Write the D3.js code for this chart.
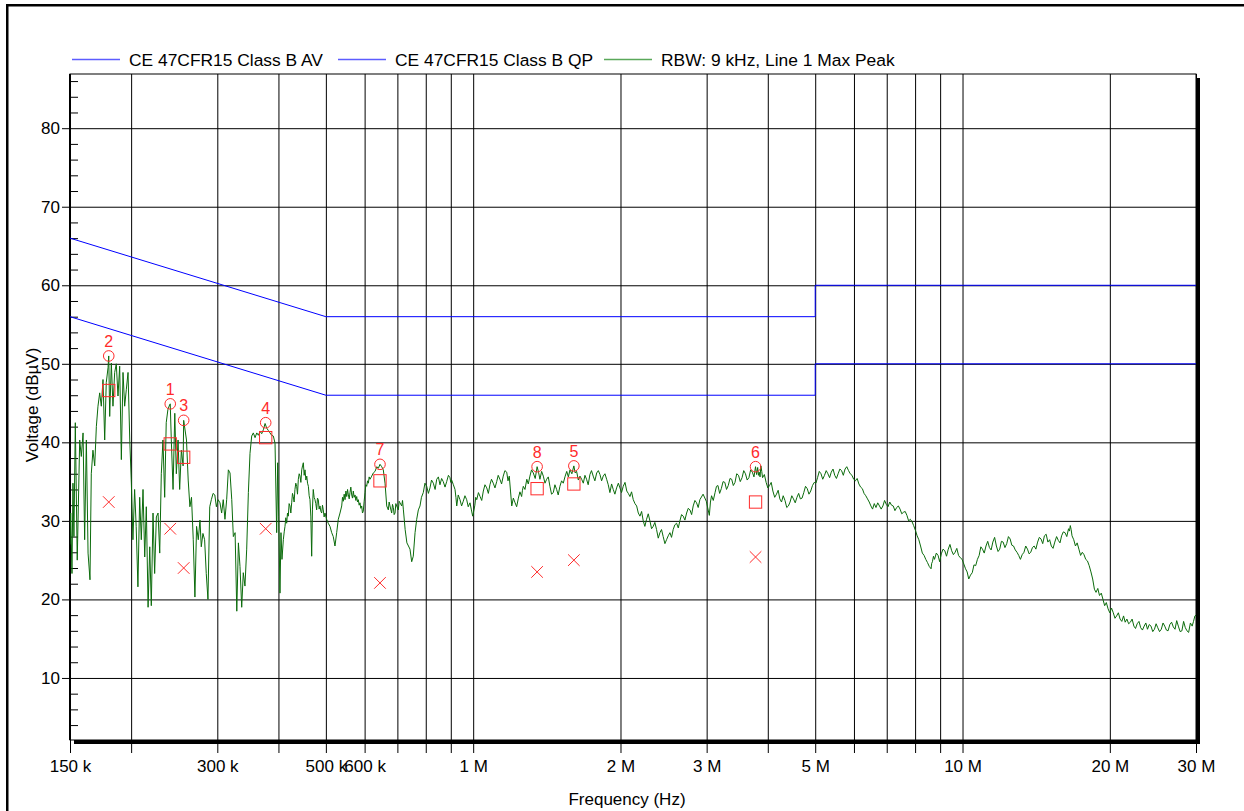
<!DOCTYPE html>
<html><head><meta charset="utf-8">
<script src="https://cdn.jsdelivr.net/npm/d3@7"></script>
<style>
html,body{margin:0;padding:0;background:#fff;overflow:hidden}
svg{display:block;font-family:"Liberation Sans",Arial,sans-serif}
</style></head><body>
<svg id="c" width="1244" height="811"></svg>
<script>
// ---- data (frequencies in kHz, levels in dBµV) ----
const xGridKHz = [200,300,400,500,600,700,800,900,1000,2000,3000,4000,5000,6000,7000,8000,9000,10000,20000,30000];
const xTickKHz = [150,200,300,400,500,600,700,800,900,1000,2000,3000,4000,5000,6000,7000,8000,9000,10000,20000,30000];
const xTickLabels = [[150,"150 k"],[300,"300 k"],[500,"500 k"],[600,"600 k"],[1000,"1 M"],[2000,"2 M"],[3000,"3 M"],[5000,"5 M"],[10000,"10 M"],[20000,"20 M"],[30000,"30 M"]];
const yMajor = [10,20,30,40,50,60,70,80];
const yMinor = [4,6,8,12,14,16,18,22,24,26,28,32,34,36,38,42,44,46,48,52,54,56,58,62,64,66,68,72,74,76,78,82,84,86];

const avLimit = [[150,56],[500,46],[5000,46],[5000,50],[30000,50]];
const qpLimit = [[150,66],[500,56],[5000,56],[5000,60],[30000,60]];

const legendNames = ["CE 47CFR15 Class B AV","CE 47CFR15 Class B QP","RBW: 9 kHz, Line 1 Max Peak"];

// marker: number, frequency kHz, peak, quasi-peak, average
const markerNums = [1,2,3,4,5,6,7,8];
const markerFreq = [240.4,180.0,256.1,376.7,1606,3776,645,1351];
const markerPeak = [44.9,51.0,42.8,42.5,37.0,36.9,37.2,36.9];
const markerQP   = [39.8,46.6,38.1,40.6,34.7,32.4,35.1,34.1];
const markerAV   = [29.0,32.4,24.0,29.0,25.0,25.4,22.1,23.5];

const trace = [
[150.0,27],[150.5,31],[151.4,23.3],[152.1,34.8],[152.8,28],[153.8,42.5],[155.2,25],[157.0,40.3],[158.2,38.2],[159.5,41.2],[160.7,27.6],[162.0,40.3],[163.3,25.9],[164.8,22.5],[165.8,36],[167.1,39],[168.5,37],[169.8,42],[171.1,44.6],[172.5,46.3],[173.8,44.6],[175.2,48],[176.6,40.3],[177.9,47.6],[179.4,49.5],[180.0,51],[180.8,43.3],[182.2,50.1],[183.6,44.6],[185.1,48.9],[186.5,50],[188.0,45.9],[189.5,49.7],[191.0,37.8],[192.5,48.9],[194.0,44.6],[195.5,46.7],[197.1,48.9],[198.7,40.3],[200.2,34.8],[201.7,27.6],[203.3,34],[204.8,29.3],[206.5,21.6],[208.2,33],[209.8,27.6],[211.5,34],[213.2,25.4],[214.8,31.8],[216.6,19],[218.3,26.7],[219.9,19.2],[221.7,31],[223.4,23.3],[225.2,30.5],[227.0,31],[228.8,25.9],[230.5,36],[232.3,40.3],[234.2,33],[235.9,42.5],[237.8,44.2],[239.8,44.8],[240.4,44.9],[241.6,40.3],[243.6,34],[245.6,43.7],[247.4,36],[249.4,40.3],[251.3,34],[253.3,39],[255.4,37],[256.1,42.8],[259.5,40.3],[261.6,35.2],[263.7,31.8],[265.7,33],[267.9,27.6],[270.0,20.3],[272.1,29.3],[274.3,27.6],[276.5,30.1],[278.2,26.7],[280.4,28.4],[282.6,27.6],[284.8,23.3],[287.1,20],[289.5,31.8],[291.7,32.7],[294.1,33.5],[296.5,33.3],[298.7,31.8],[301.2,32.7],
[303.8,32.3],[306.2,31],[308.5,32.7],[311.0,30.2],[313.5,32.7],[316.0,36.5],[318.5,36.1],[321.1,32.7],[323.5,28],[326.2,28.5],[328.8,18.5],[331.3,27.2],[333.8,24.2],[336.5,19],[339.0,23.4],[341.7,21.7],[344.5,26.4],[347.2,33.6],[349.9,38.6],[352.7,40.8],[355.4,41.2],[358.3,40.6],[361.2,41.2],[364.0,40.9],[366.8,41.4],[369.7,41.1],[372.6,41.6],[375.6,42.4],[378.6,41.8],[381.5,41.5],[384.4,41.2],[387.4,40.9],[390.5,40.8],[393.6,39.9],[396.7,28.5],[398.6,37.4],[400.5,30.6],[402.9,20.8],[404.8,28.5],[406.7,25.1],[409.3,27.6],[411.0,28.6],[412.5,29.3],[414.1,30.4],[415.8,29.7],[417.4,31.0],[419.0,30.6],[420.6,32.2],[422.3,31.9],[424.0,31.0],[425.7,32.3],[427.3,33.5],[428.9,33.1],[430.6,32.4],[432.3,34],[434.0,34.8],[435.8,34.4],[437.5,33.4],[439.2,35.3],[441.0,36.0],[442.7,35.7],[444.5,34.9],[446.3,36.5],[448.0,37.0],[449.7,37.4],[451.5,35.8],[453.3,36.5],[455.1,35.2],[457.0,35.7],[458.7,34.8],[460.5,34.4],[462.2,33.2],[464.0,32.7],[465.9,30.5],[467.7,25.5],[469.4,31.5],[471.2,34],[473.1,33.0],[475.0,32.7],[476.9,32.2],[478.8,31.4],[480.6,32.9],[482.5,32.7],[484.4,31.5],[486.4,31.9],[488.4,31.2],[490.3,31],[492.1,32.0],[493.9,31.4],[495.9,30.5],[497.9,31],[501.8,30.2],[505.6,29.7],[509.8,29.3],[513.9,28.5],[517.7,28],[521.9,26.8],[526.1,28.5],[530.1,30.2],[534.4,31],[538.7,31.9],[540.7,33.0],[542.8,32.5],[545.0,33.4],[547.2,32.7],[549.4,33.8],[551.6,33.1],[553.7,34.0],[555.8,33.3],[558.0,32.8],[560.1,33.6],[562.3,34.3],[564.6,33.3],[566.7,32.9],[568.9,33.8],[571.2,33.0],[573.6,33.3],[575.8,32.6],[578.1,33.1],[580.3,32.4],[582.5,32.7],[584.8,32.0],[587.1,32.3],[589.4,31.6],[591.8,31.9],[594.0,31.0],[596.2,31.2],[598.7,32.5],[601.2,33.6],[603.5,34.6],[605.9,34.4],[608.3,35.1],[610.7,34.8],[613.0,35.6],[615.4,35.3],[620.4,35.7],[625.0,36.1],[630.2,36.3],[635.3,36.9],[640.1,36.7],[645.0,37.2],[650.2,36.9],[655.1,36.5],[660.5,34.8],[665.8,31.9],[670.8,31.4],[673.4,32.4],[676.1,31.9],[681.5,31],[684.1,32.1],[686.8,31.7],[689.5,30.8],[692.3,31],[695.0,32.2],[697.7,31.9],[703.1,31.4],[705.9,32.5],[708.7,32.3],[714.4,31.9],[717.2,32.6],[720.1,31.4],[726.1,28.9],[732.0,27.2],[737.5,26.8],[742.8,26.4],[748.8,24.8],[754.4,25.5],[760.7,28.5],[766.6,30.2],[772.6,31.4],[778.6,31.9],
[784,33.0],[790.7,33.6],[797,34.8],[803.6,34.4],[810,33.5],[816.1,34.2],[822,35.2],[829.0,34.8],[836,34.0],[842.4,35.3],[849,35.6],[855.4,34.6],[862,35.4],[868.7,35],[876,34.3],[882.8,35],[890,35.8],[896.6,35.5],[900,34.9],[903.8,35.2],[911,34.6],[918.1,34],[922,33.0],[925.6,31.9],[932,33.3],[939.8,32.7],[947,31.9],[954.4,32.5],[962,33.2],[969.9,32.7],[977,31.8],[985.1,32.3],[991,31.5],[997.7,30.6],[1003,31.3],[1008,32],[1012,33.0],[1017,32.7],[1025,33.6],[1033,33.1],[1041,32.6],[1049,33.8],[1057,34.6],[1066,34.2],[1074,33.5],[1082,34.6],[1090,35.3],[1099,34.8],[1108,34.2],[1117,35],[1125,35.8],[1134,35.3],[1143,34.7],[1152,35.7],[1161,36.4],[1171,36.2],[1178,35.1],[1185,35.7],[1192,33.8],[1199,31.9],[1208,32.9],[1218,32.3],[1227,31.8],[1237,32.9],[1246,33.7],[1256,33.1],[1261,33.9],[1266,34.4],[1276,34.0],[1287,35.3],[1296,34.7],[1306,35.7],[1316,36.5],[1327,36.1],[1339,35.4],[1351,36.9],[1360,36.2],[1369,35.3],[1380,36.3],[1391,35.7],[1402,34.8],[1413,35.3],[1424,35.6],[1435,34.4],[1446,33.4],[1458,33.6],[1469,34.6],[1481,34],[1492,33.3],[1504,34.4],[1516,35.1],[1528,34.8],[1540,35.6],[1553,36.3],[1565,35.6],[1577,36.5],[1591,36.0],[1606,37.0],[1616,36.1],[1627,36.3],[1640,35.2],[1653,35.7],[1666,35.3],[1679,34.8],[1692,35.8],[1705,35.3],[1718,34.6],[1732,35.9],[1745,36.4],[1759,35.7],[1773,35.1],[1788,36.1],[1802,36.4],[1816,35.9],[1830,35.1],[1844,35.7],[1859,36.0],[1874,35.3],[1888,34.6],[1903,33.6],[1918,34.7],[1933,34],[1948,33.4],[1964,34.2],[1980,34.8],[1995,34.2],[2010,33.6],[2026,34.4],[2043,34.9],[2060,33.8],[2075,33.5],[2091,33.1],[2107,33.7],[2124,32.7],[2141,32.2],[2158,31.9],[2175,31.0],[2192,30.6],[2209,31.2],[2226,30],[2243,29.3],[2261,30.2],[2279,30.9],[2297,30],[2315,29.0],[2333,29.3],[2351,29.8],[2370,28.9],[2389,27.8],[2408,28.5],[2426,28.9],[2445,28],[2465,27.1],[2484,27.6],[2504,28.1],[2524,28.5],[2543,27.9],[2563,28.9],[2583,29.5],[2604,29.7],[2625,29.1],[2645,30],[2666,30.8],[2687,30.6],[2708,30.1],[2730,31],[2751,31.6],[2773,31.4],[2795,30.8],[2816,31.9],[2839,32.6],[2861,32.3],[2883,31.7],[2906,32.7],[2950,33.4],[2995,32.5],
[3038,30.7],[3054,32.4],[3070,33.2],[3095,32.6],[3121,33.6],[3142,34.4],[3164,34.5],[3189,33.5],[3214,34.1],[3241,35.0],[3268,34.9],[3294,34.0],[3321,34.5],[3348,35.4],[3375,35.3],[3401,34.5],[3428,34.9],[3456,36.0],[3485,35.8],[3514,35.0],[3544,35.5],[3572,36.4],[3601,36],[3630,35.2],[3660,35.5],[3690,36.5],[3720,36.2],[3748,35.6],[3776,36.9],[3795,35.9],[3814,36.8],[3828,35.8],[3842,36.2],[3857,35.6],[3872,37],[3888,36.3],[3903,35.5],[3936,35.9],[3969,34.9],[4001,34.2],[4033,34.5],[4065,34.9],[4097,33.8],[4132,33.0],[4167,33.4],[4200,33.9],[4233,32.8],[4267,32.4],[4301,33.2],[4337,32.6],[4373,31.7],[4407,31.9],[4442,32.4],[4478,33.2],[4514,32.8],[4551,32.3],[4588,33],[4625,33.5],[4663,32.8],[4700,32.9],[4738,33.6],[4777,34.4],[4816,34.1],[4855,33.4],[4895,33.8],[4936,34.5],[4977,34.9],[5016,34.8],[5055,35.5],[5096,36.3],[5138,36],[5180,35.3],[5223,35.8],[5265,36.4],[5308,36],[5350,35.5],[5392,36.2],[5437,36.6],[5481,35.8],[5525,35.4],[5569,36],[5615,36.6],[5660,36.4],[5707,35.8],[5754,36.6],[5800,36.9],[5849,36.4],[5896,36.0],[5944,35.8],[5992,35.3],[6040,35.1],[6090,35.4],[6141,34.7],[6191,34.3],[6242,34.1],[6292,33.5],[6343,33.2],[6395,32.8],[6447,32.4],[6498,31.9],[6549,31.5],[6602,32.2],[6655,31.7],[6710,32.3],[6766,31.9],[6820,31.5],[6875,31.9],[6930,32.6],[6986,32.1],[7043,31.8],[7101,32.4],[7160,32.0],[7218,31.9],[7276,31.3],[7335,31.7],[7394,31.9],[7453,31.5],[7514,30.9],[7575,31.1],[7636,31.2],[7698,30.7],[7760,30.0],[7823,30.2],[7885,29.9],[7946,29.4],[8011,28.8],[8077,28.1],[8142,27.6],[8208,26.8],[8277,25.9],[8346,25.6],[8412,25.1],[8479,24.7],[8551,24.2],[8624,23.9],[8650,24.6],[8680,24.8],[8722,25.5],[8765,25.1],[8840,25.9],[8914,25.6],[8980,24.8],[9049,25.8],[9124,26.4],[9200,26.2],[9275,25.5],[9351,26.4],[9426,27.0],[9502,26.2],[9580,25.7],[9657,26],[9735,26.5],[9814,25.6],[9898,25.3],[9982,25.1],[10062,24.5],[10143,23.9],[10220,23.5],[10297,22.6],[10383,23.1],[10469,23.4],[10554,24.4],[10639,24.3],[10726,25.1],[10814,25.6],[10900,26.7],[10985,26.4],[11076,25.9],[11168,26.8],[11259,27.4],[11350,26.6],[11441,26.3],[11533,27.3],[11630,27.9],[11727,26.8],[11820,26.1],[11913,26.4],[12010,27.4],[12107,27.3],[12209,26.6],[12311,27.1],[12411,28.0],[12511,27.7],[12611,26.9],[12712,26.8],[12817,26.3],[12922,26],[13027,25.6],[13132,25.1],[13242,25.7],[13353,26],[13464,26.8],[13575,26.4],[13680,25.8],[13784,26],[13895,26.6],[14007,26.8],[14122,26.4],[14238,27.3],[14353,27.9],[14468,27.7],[14585,27.1],[14701,28.1],[14822,28.3],[14944,27.3],[15065,27.6],[15186,26.8],[15311,26.5],[15437,27.3],[15568,28.0],[15700,27.5],[15820,27.2],[15940,28.1],[16069,28.6],[16198,28.5],[16333,28.0],[16468,29],[16540,28.7],[16606,29.4],[16670,28.9],[16741,28.1],[16877,27.6],[17013,26.8],[17150,27.2],[17291,26.4],[17430,25.6],[17570,26],[17710,25.7],[17857,25.1],[18000,24.9],[18150,24.3],[18300,23.5],[18450,22.6],[18600,21.3],[18742,20.9],[18900,21.4],[19051,20.5],[19210,20.8],[19366,20],[19520,19.2],[19673,19.6],[19835,18.8],[19997,18.3],[20160,18.9],[20327,18.3],[20490,17.6],[20649,17.9],[20820,18.3],[20990,17.5],[21160,17.2],[21336,17.9],[21500,17.1],[21673,17.5],[21850,16.9],[22032,17.1],[22210,17.5],[22396,16.6],[22570,16.3],[22748,16.9],[22940,17.2],[23125,16.4],[23315,16.1],[23507,16.6],[23690,17.0],[23876,16.2],[24075,16.8],[24274,16.6],[24475,15.9],[24673,16.2],[24865,16.9],[25059,16.4],[25270,15.9],[25480,16.2],[25690,17.0],[25897,16.6],[26100,16.1],[26304,16],[26524,16.8],[26744,17.1],[26960,16.5],[27181,16.2],[27395,17.3],[27608,16.6],[27840,15.9],[28071,16],[28300,17.2],[28530,16.4],[28754,16.0],[28977,15.8],[29220,17.0],[29464,16.6],[29650,17.2],[29848,17.9],[30000,18]
];

// ---- drawing ----
const svg = d3.select("#c");
const L = 70, R = 1196, T = 74, B = 740;
const x = d3.scaleLog().domain([150, 30000]).range([L, R]);
const y = d3.scaleLinear().domain([2.1, 86.9]).range([B, T]);
const FS = "17px";
const FONT = "Liberation Sans, Arial, sans-serif";

// outer frame
svg.append("rect").attr("x", 7.25).attr("y", 5.25).attr("width", 1400).attr("height", 1000)
  .attr("fill", "none").attr("stroke", "#000").attr("stroke-width", 2.5);

// shadow + plot area
svg.append("rect").attr("x", L + 4).attr("y", T + 4).attr("width", R - L).attr("height", B - T).attr("fill", "#000");
svg.append("rect").attr("x", L).attr("y", T).attr("width", R - L).attr("height", B - T)
  .attr("fill", "#fff").attr("stroke", "#000").attr("stroke-width", 1);

// vertical gridlines
const gx = svg.append("g").attr("transform", `translate(0,${T})`)
  .call(d3.axisTop(x).tickValues(xGridKHz).tickSize(-(B - T)).tickFormat(""));
gx.select(".domain").remove();
gx.selectAll("line").attr("stroke", "#000").attr("stroke-width", 1);

// horizontal gridlines
const gy = svg.append("g").attr("transform", `translate(${L},0)`)
  .call(d3.axisLeft(y).tickValues(yMajor).tickSize(-(R - L)).tickFormat(""));
gy.select(".domain").remove();
gy.selectAll("line").attr("stroke", "#000").attr("stroke-width", 1);

// bottom axis ticks + labels
const labelMap = new Map(xTickLabels);
const ax = svg.append("g").attr("transform", `translate(0,${B})`)
  .call(d3.axisBottom(x).tickValues(xTickKHz).tickSize(13).tickPadding(7).tickFormat(d => labelMap.get(d) || ""));
ax.select(".domain").remove();
ax.selectAll("line").attr("stroke", "#000");
ax.selectAll("text").attr("font-size", FS).attr("fill", "#000").attr("font-family", FONT);

// left axis major ticks + labels
const ay = svg.append("g").attr("transform", `translate(${L},0)`)
  .call(d3.axisLeft(y).tickValues(yMajor).tickSize(8).tickPadding(2));
ay.select(".domain").remove();
ay.selectAll("line").attr("stroke", "#000");
ay.selectAll("text").attr("font-size", FS).attr("fill", "#000").attr("font-family", FONT);

// minor ticks inside
const am = svg.append("g").attr("transform", `translate(${L},0)`)
  .call(d3.axisRight(y).tickValues(yMinor).tickSize(8).tickFormat(""));
am.select(".domain").remove();
am.selectAll("line").attr("stroke", "#000");

// left axis line
svg.append("line").attr("x1", L).attr("x2", L).attr("y1", T).attr("y2", B)
  .attr("stroke", "#000").attr("stroke-width", 2);

// clip
svg.append("clipPath").attr("id", "clip").append("rect")
  .attr("x", L).attr("y", T).attr("width", R - L).attr("height", B - T);
const plot = svg.append("g").attr("clip-path", "url(#clip)");

const line = d3.line().x(d => x(d[0])).y(d => y(d[1]));

plot.append("path").datum(trace).attr("d", line)
  .attr("fill", "none").attr("stroke", "#0b6b0b").attr("stroke-width", 1).attr("stroke-linejoin", "round");

[qpLimit, avLimit].forEach(lim => {
  plot.append("path").datum(lim).attr("d", line)
    .attr("fill", "none").attr("stroke", "#0000ff").attr("stroke-width", 1);
});

// markers
const red = "#ff2a2a";
const mk = svg.append("g");
markerNums.forEach((n, i) => {
  const cx = x(markerFreq[i]);
  mk.append("circle").attr("cx", cx).attr("cy", y(markerPeak[i])).attr("r", 5.3)
    .attr("fill", "none").attr("stroke", red).attr("stroke-width", 1);
  mk.append("text").attr("x", cx).attr("y", y(markerPeak[i]) - 9).attr("text-anchor", "middle")
    .attr("font-size", "16px").attr("fill", red).text(n);
  const s = 12.3;
  mk.append("rect").attr("x", cx - s / 2).attr("y", y(markerQP[i]) - s / 2).attr("width", s).attr("height", s)
    .attr("fill", "none").attr("stroke", red).attr("stroke-width", 1);
  const cy = y(markerAV[i]), h = 5.8;
  mk.append("path").attr("d", `M${cx - h},${cy - h}L${cx + h},${cy + h}M${cx - h},${cy + h}L${cx + h},${cy - h}`)
    .attr("stroke", red).attr("stroke-width", 1).attr("fill", "none");
});

// legend
const legendColors = ["#5c5cff", "#5c5cff", "#5aa85a"];
const legendX = [72, 338, 604];
legendNames.forEach((nm, i) => {
  svg.append("line").attr("x1", legendX[i]).attr("x2", legendX[i] + 48).attr("y1", 59.5).attr("y2", 59.5)
    .attr("stroke", legendColors[i]).attr("stroke-width", 1.3);
  svg.append("text").attr("x", legendX[i] + 57).attr("y", 66).attr("font-size", "17.4px").attr("fill", "#000").text(nm);
});

// axis titles
svg.append("text").attr("transform", "translate(38,405) rotate(-90)").attr("text-anchor", "middle")
  .attr("font-size", FS).attr("fill", "#000").text("Voltage (dBµV)");
svg.append("text").attr("x", 627).attr("y", 805).attr("text-anchor", "middle")
  .attr("font-size", FS).attr("fill", "#000").text("Frequency (Hz)");
</script>
</body></html>
